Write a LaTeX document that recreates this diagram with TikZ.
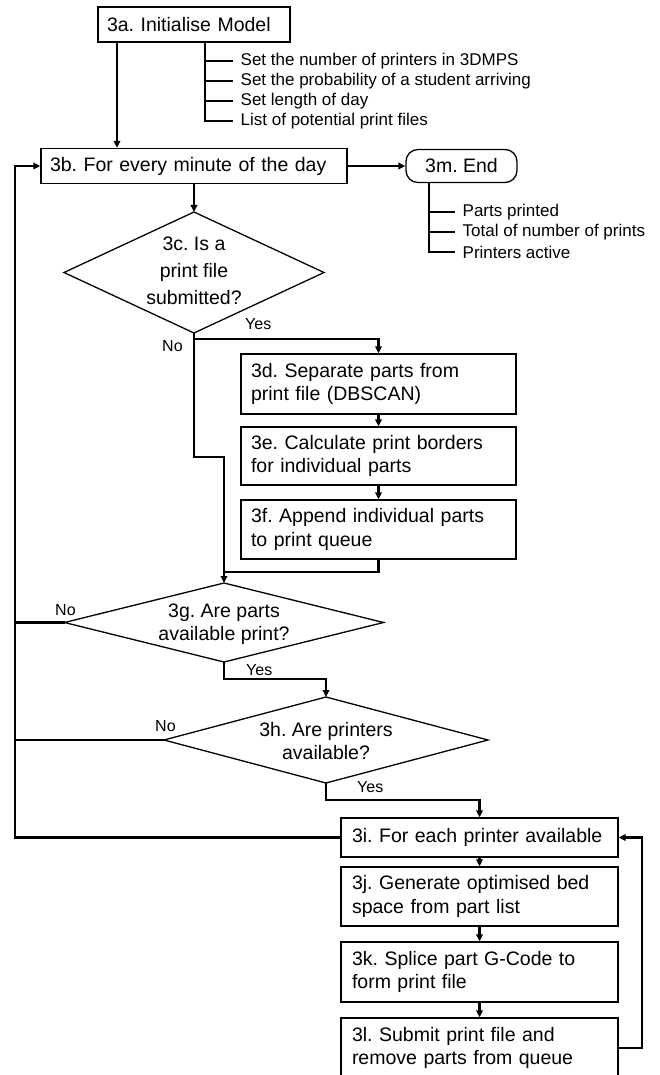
\documentclass[tikz,border=0pt]{standalone}
\usepackage{fontspec}
\setmainfont{Liberation Sans}
\usetikzlibrary{arrows.meta,shapes.geometric}
\frenchspacing
\begin{document}
\begin{tikzpicture}[x=1pt,y=-1pt,
  box/.style={draw, line width=1.3pt, rectangle, inner ysep=0pt, align=left,
    font=\fontsize{19.5}{23.4}\selectfont},
  wbox/.style={box, text width=255pt, inner xsep=10pt},
  ibox/.style={box, text width=255pt, inner xsep=11pt},
  endbox/.style={draw, line width=1.3pt, rounded corners=12pt, minimum width=111pt,
    minimum height=33pt, inner sep=0pt, font=\fontsize{19.5}{23.4}\selectfont},
  dia/.style={draw, line width=1.3pt, shape=diamond, inner sep=0pt, outer sep=0pt},
  dtext/.style={align=center, inner sep=0pt, font=\fontsize{19.5}{23}\selectfont},
  item/.style={anchor=west, inner xsep=7.5pt, inner ysep=0pt, font=\fontsize{17}{20}\selectfont},
  lab/.style={anchor=west, inner sep=0pt, font=\fontsize{16}{19}\selectfont},
  conn/.style={line width=2.5pt},
  arr/.style={conn, -{Triangle[length=7pt,width=6.5pt]}}
]
\useasboundingbox (0,0) rectangle (660,1075);
\fill[white] (0,0) rectangle (660,1075);

% nodes
\node[box, text width=174pt, inner xsep=9pt, minimum height=35pt] (a) at (194,24.5) {3a. Initialise Model};
\node[box, text width=288pt, inner xsep=9pt, minimum height=35pt] (b) at (194,166) {3b. For every minute of the day};
\node[endbox] (m) at (461.5,166) {3m. End};

\node[dia, minimum width=260pt, minimum height=121pt] (c) at (194,272.5) {};
\node[dtext, font=\fontsize{19.5}{27}\selectfont] (ct) at (194,270.5) {3c. Is a\\print file\\submitted?};

\node[wbox, minimum height=60pt] (d) at (378.5,384) {3d. Separate parts from\\print file (DBSCAN)};
\node[wbox, minimum height=58pt] (e) at (378.5,456) {3e. Calculate print borders\\for individual parts};
\node[wbox, minimum height=59pt] (f) at (378.5,529.5) {3f. Append individual parts\\to print queue};

\node[dia, minimum width=319pt, minimum height=79pt] (g) at (224,622.5) {};
\node[dtext] (gt) at (224,624.5) {3g. Are parts\\available print?};

\node[dia, minimum width=324pt, minimum height=86pt] (h) at (326,740) {};
\node[dtext] (ht) at (326,741) {3h. Are printers\\available?};

\node[ibox, minimum height=39pt] (i) at (479.5,837.5) {3i. For each printer available};
\node[ibox, minimum height=59pt] (j) at (479.5,896.5) {3j. Generate optimised bed\\space from part list};
\node[ibox, minimum height=60pt] (k) at (479.5,972) {3k. Splice part G-Code to\\form print file};
\node[ibox, minimum height=60pt] (l) at (479.5,1048) {3l. Submit print file and\\remove parts from queue};

% lists
\node[item] (a1) at (233,61) {Set the number of printers in 3DMPS};
\node[item] (a2) at (233,81) {Set the probability of a student arriving};
\node[item] (a3) at (233,101) {Set length of day};
\node[item] (a4) at (233,121) {List of potential print files};
\node[item] (m1) at (455,212) {Parts printed};
\node[item] (m2) at (455,232) {Total of number of prints};
\node[item] (m3) at (455,252) {Printers active};

% labels
\node[lab] (cy) at (245,324) {Yes};
\node[lab] (cn) at (162,346) {No};
\node[lab] (gn) at (55,610) {No};
\node[lab] (gy) at (246,670) {Yes};
\node[lab] (hn) at (155,726) {No};
\node[lab] (hy) at (357,787) {Yes};

% helper coordinates
\coordinate (ax) at (117,0);
\coordinate (abx) at (205,0);
\coordinate (mbx) at (429,0);
\coordinate (lx) at (15,0);
\coordinate (rx) at (642,0);
\coordinate (n1) at (194,457);
\coordinate (mg) at (224,572);

% list branches
\draw[conn] (a.south -| abx) |- (a4.west);
\draw[conn] (a1.west -| abx) -- (a1.west);
\draw[conn] (a2.west -| abx) -- (a2.west);
\draw[conn] (a3.west -| abx) -- (a3.west);
\draw[conn] (m.south -| mbx) |- (m3.west);
\draw[conn] (m1.west -| mbx) -- (m1.west);
\draw[conn] (m2.west -| mbx) -- (m2.west);

% connectors
\draw[arr] (a.south -| ax) -- (b.north -| ax);
\draw[arr] (b.east) -- (m.west);
\draw[arr] (b.south) -- (c.north);
\draw[arr] (c.south) -- ++(0,6) -| (d.north);
\draw[arr] (c.south) -- (n1) -| (g.north);
\draw[conn] (f.south) |- (mg);
\draw[arr] (d.south) -- (e.north);
\draw[arr] (e.south) -- (f.north);
\draw[conn] (g.west) -- (g.west -| lx);
\draw[arr] (g.south) -- ++(0,17) -| (h.north);
\draw[conn] (h.west) -- (h.west -| lx);
\draw[arr] (h.south) -- ++(0,17) -| (i.north);
\draw[arr] (i.west) -- (i.west -| lx) -- (b.west -| lx) -- (b.west);
\draw[arr] (i.south) -- (j.north);
\draw[arr] (j.south) -- (k.north);
\draw[arr] (k.south) -- (l.north);
\draw[arr] (l.east) -- (l.east -| rx) -- (i.east -| rx) -- (i.east);
\end{tikzpicture}
\end{document}
